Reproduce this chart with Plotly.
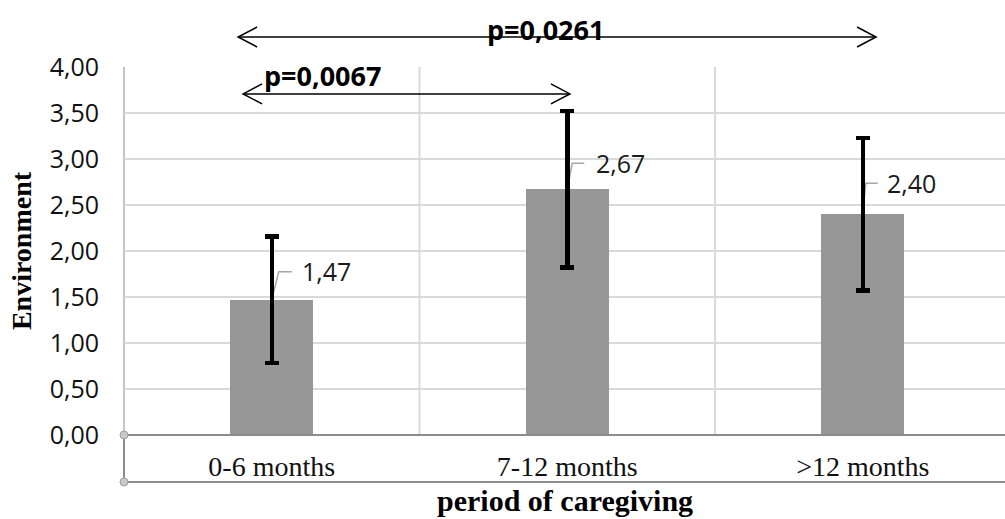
import plotly.graph_objects as go

categories = ["0-6 months", "7-12 months", ">12 months"]
means = [1.47, 2.67, 2.40]
errors = [0.69, 0.85, 0.83]
mean_labels = ["1,47", "2,67", "2,40"]
y_ticks = [0, 0.5, 1, 1.5, 2, 2.5, 3, 3.5, 4]
p_labels = ["p=0,0261", "p=0,0067"]
x_title = "period of caregiving"
y_title = "Environment"

x_pos = list(range(len(categories)))

W, H = 1005, 519
ML, MR, MT, MB = 124, 0, 67, 84
cat_px = 295.5
plot_w = W - ML - MR
plot_h = H - MT - MB
x_range = [-0.5, -0.5 + plot_w / cat_px]

fig = go.Figure()
fig.add_trace(go.Bar(
    x=x_pos, y=means, width=0.28,
    marker=dict(color="#979797", line=dict(width=0)),
    error_y=dict(type="data", array=errors, visible=True, color="#000000",
                 thickness=4.5, width=7),
    hoverinfo="skip", showlegend=False,
))

shapes = []
# vertical category separators
for xv in [0.5, 1.5]:
    shapes.append(dict(type="line", xref="x", yref="paper", x0=xv, x1=xv, y0=0, y1=1,
                       line=dict(color="#d9d9d9", width=2), layer="below"))
# left axis line (light part inside plot)
shapes.append(dict(type="line", xref="paper", yref="paper", x0=0, x1=0, y0=0, y1=1,
                   line=dict(color="#c4c4c4", width=2), layer="below"))
below_y = -47 / plot_h
# category box below the axis
shapes.append(dict(type="line", xref="paper", yref="paper", x0=0, x1=0, y0=below_y, y1=0,
                   line=dict(color="#8c8c8c", width=2), layer="above"))
shapes.append(dict(type="line", xref="paper", yref="paper", x0=0, x1=1, y0=below_y, y1=below_y,
                   line=dict(color="#8c8c8c", width=2), layer="above"))
shapes.append(dict(type="line", xref="paper", yref="paper", x0=0, x1=1, y0=0, y1=0,
                   line=dict(color="#8c8c8c", width=2), layer="above"))
for yv in [0, below_y]:
    shapes.append(dict(type="circle", xref="paper", yref="paper",
                       xsizemode="pixel", ysizemode="pixel", xanchor=0, yanchor=yv,
                       x0=-4, x1=4, y0=-4, y1=4,
                       fillcolor="#c8c8c8", line=dict(color="#a0a0a0", width=1), layer="above"))

# leader lines for data labels (pixel offsets from bar top)
leader_paths = ["M0,0 L7,28 L20,28", "M0,0 L5,26 L17,26", "M0,0 L3,31 L15,31"]
for xi, m, p in zip(x_pos, means, leader_paths):
    shapes.append(dict(type="path", xref="x", yref="y", xsizemode="pixel", ysizemode="pixel",
                       xanchor=xi, yanchor=m, path=p,
                       line=dict(color="#a6a6a6", width=1.5), layer="between"))


def double_arrow(x_start, x_end, y, yref):
    out = [dict(type="line", xref="x", yref=yref, x0=x_start, x1=x_end, y0=y, y1=y,
                line=dict(color="#000000", width=1.5), layer="above")]
    out.append(dict(type="path", xref="x", yref=yref, xsizemode="pixel", ysizemode="pixel",
                    xanchor=x_start, yanchor=y, path="M19,10 L0,0 L19,-10",
                    line=dict(color="#000000", width=1.5), layer="above"))
    out.append(dict(type="path", xref="x", yref=yref, xsizemode="pixel", ysizemode="pixel",
                    xanchor=x_end, yanchor=y, path="M-19,10 L0,0 L-19,-10",
                    line=dict(color="#000000", width=1.5), layer="above"))
    return out


top_arrow_y = 1 + 30 / plot_h
shapes += double_arrow(-0.114, 2.045, top_arrow_y, "paper")
shapes += double_arrow(-0.097, 1.009, 3.707, "y")

annotations = []
label_shift = [(55, 29), (53, 26), (49, 31)]
for xi, m, lab, (dx, dy) in zip(x_pos, means, mean_labels, label_shift):
    annotations.append(dict(x=xi, y=m, xref="x", yref="y", text=lab, showarrow=False,
                            xshift=dx, yshift=dy, xanchor="center", yanchor="middle",
                            font=dict(family="Open Sans", size=25, color="#1a1a1a")))

annotations.append(dict(x=0.928, y=1 + (67 - 29) / plot_h,
                        xref="x", yref="paper", text="<b>" + p_labels[0] + "</b>",
                        showarrow=False, xanchor="center", yanchor="middle",
                        font=dict(family="Open Sans", size=27, color="#000000")))
annotations.append(dict(x=0.173, y=(435 - 75) / 92, xref="x", yref="y",
                        text="<b>" + p_labels[1] + "</b>",
                        showarrow=False, xanchor="center", yanchor="middle",
                        font=dict(family="Open Sans", size=27, color="#000000")))
# x axis title, sitting on the bottom edge of the figure
annotations.append(dict(x=0.5, y=-MB / plot_h, xref="paper", yref="paper",
                        text="<b>" + x_title + "</b>", showarrow=False,
                        xanchor="center", yanchor="bottom",
                        font=dict(family="Liberation Serif", size=30, color="#000000")))

fig.update_layout(
    width=W, height=H,
    margin=dict(l=ML, r=MR, t=MT, b=MB, autoexpand=False),
    paper_bgcolor="#ffffff", plot_bgcolor="#ffffff",
    separators=",.",
    shapes=shapes, annotations=annotations,
    xaxis=dict(range=x_range, tickvals=x_pos, ticktext=categories, showgrid=False,
               zeroline=False, showline=False, ticks="", ticklabelstandoff=12,
               tickfont=dict(family="Liberation Serif", size=28, color="#111111"),
               automargin=False, fixedrange=True),
    yaxis=dict(range=[0, 4], tickvals=y_ticks, tickformat=".2f", showgrid=True,
               gridcolor="#d9d9d9", gridwidth=2, zeroline=False, showline=False, ticks="",
               ticklabelstandoff=24,
               tickfont=dict(family="Open Sans", size=25, color="#111111"),
               title=dict(text="<b>" + y_title + "</b>", standoff=9,
                          font=dict(family="Liberation Serif", size=28, color="#000000")),
               automargin=False, fixedrange=True),
    bargap=0,
)

fig.write_html("out.html", config={"displayModeBar": False},
               post_script="document.body.style.margin='0';")
